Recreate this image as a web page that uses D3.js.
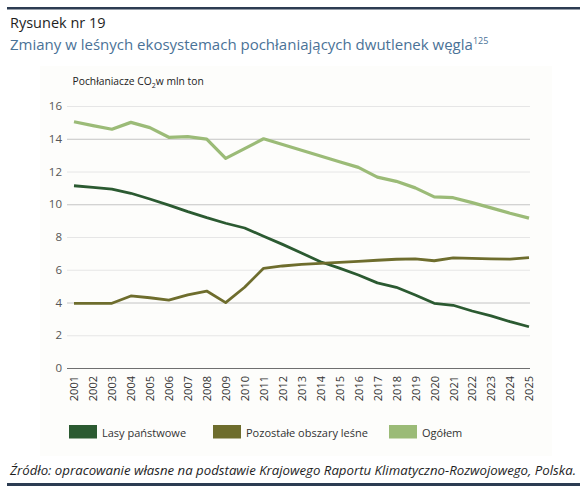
<!DOCTYPE html>
<html>
<head>
<meta charset="utf-8">
<script src="https://cdn.jsdelivr.net/npm/d3@7"></script>
<style>
  body { margin: 0; background: #fff; }
  svg { display: block; font-family: "Open Sans", sans-serif; }
</style>
</head>
<body>
<svg id="chart" width="584" height="492"></svg>
<script>
// Data (mln ton CO2)
const years = d3.range(2001, 2026);
const lasyPanstwowe = [11.13, 11.03, 10.93, 10.67, 10.32, 9.95, 9.55, 9.18, 8.84, 8.55,
  8.05, 7.55, 7.02, 6.49, 6.1, 5.68, 5.2, 4.93, 4.46, 3.95, 3.83, 3.48, 3.18, 2.83, 2.52];
const pozostale = [3.95, 3.95, 3.95, 4.4, 4.29, 4.15, 4.46, 4.7, 3.99, 4.93,
  6.09, 6.23, 6.33, 6.39, 6.45, 6.51, 6.58, 6.64, 6.66, 6.55, 6.72, 6.69, 6.67, 6.65, 6.74];
const ogolem = [15.04, 14.8, 14.58, 15.0, 14.68, 14.09, 14.13, 13.98, 12.8, 13.4,
  14.0, 13.65, 13.3, 12.95, 12.6, 12.25, 11.66, 11.4, 11.0, 10.45, 10.4, 10.1, 9.78, 9.45, 9.15];
const yTicks = [0, 2, 4, 6, 8, 10, 12, 14, 16];
const seriesNames = ["Lasy państwowe", "Pozostałe obszary leśne", "Ogółem"];
const seriesColors = ["#2b5a31", "#6e6d2d", "#9bbb77"];

const svg = d3.select("#chart");

// frame lines
svg.append("rect").attr("x", 7).attr("y", 7).attr("width", 573).attr("height", 2.5).attr("fill", "#2c3c52");
svg.append("rect").attr("x", 7).attr("y", 483).attr("width", 573).attr("height", 3).attr("fill", "#2c3c52");

// header
svg.append("text").attr("x", 10).attr("y", 27.5)
  .attr("font-size", 14.5).attr("fill", "#1e1e1e").text("Rysunek nr 19");
const title = svg.append("text").attr("x", 10).attr("y", 50)
  .attr("font-size", 15).attr("fill", "#4a7297");
title.append("tspan").text("Zmiany w leśnych ekosystemach pochłaniających dwutlenek węgla");
title.append("tspan").attr("font-size", 9).attr("dy", -6).text("125");

// panel background
svg.append("rect").attr("x", 40).attr("y", 66).attr("width", 512).attr("height", 390)
  .attr("fill", "#fdfdfb");

const x = d3.scalePoint().domain(years).range([74, 529]);
const y = d3.scaleLinear().domain([0, 16]).range([368, 106]);

// y label
const yl = svg.append("text").attr("x", 72.5).attr("y", 85)
  .attr("font-size", 10.3).attr("fill", "#222");
yl.append("tspan").text("Pochłaniacze CO");
yl.append("tspan").attr("font-size", 7).attr("dy", 3).text("2");
yl.append("tspan").attr("dy", -3).text("w mln ton");

// grid (some lines print darker than others in the original)
const darkGrid = [4, 10, 14];
const yAxis = svg.append("g")
  .attr("transform", "translate(67,0)")
  .call(d3.axisLeft(y).tickValues(yTicks).tickSize(-463).tickPadding(5).tickFormat(d3.format("d")));
yAxis.select(".domain").remove();
yAxis.selectAll(".tick line")
  .attr("stroke", d => d === 0 ? "#6f6f6f" : darkGrid.includes(d) ? "#c4c4c4" : "#e6e6e6")
  .attr("stroke-width", d => d === 0 ? 1.2 : 1);
yAxis.selectAll(".tick text")
  .attr("font-family", "Open Sans, sans-serif")
  .attr("font-size", 11.5).attr("fill", "#555");

// x labels
const xAxis = svg.append("g")
  .attr("transform", "translate(0,368)")
  .call(d3.axisBottom(x).tickSize(0).tickPadding(0));
xAxis.select(".domain").remove();
xAxis.selectAll(".tick text")
  .attr("font-family", "Open Sans, sans-serif")
  .attr("font-size", 11).attr("fill", "#333")
  .attr("transform", "rotate(-90)")
  .attr("text-anchor", "end")
  .attr("x", -8).attr("y", 0).attr("dy", "0.35em");

// lines
const line = d3.line().x((d, i) => x(years[i])).y(d => y(d));
[lasyPanstwowe, pozostale, ogolem].forEach((s, i) => {
  svg.append("path").datum(s)
    .attr("fill", "none")
    .attr("stroke", seriesColors[i])
    .attr("stroke-width", i === 2 ? 3.2 : 2.8)
    .attr("stroke-linejoin", "round")
    .attr("d", line);
});

// legend
const legendX = [69, 213, 389];
seriesNames.forEach((n, i) => {
  svg.append("rect").attr("x", legendX[i]).attr("y", 425).attr("width", 28).attr("height", 13.5)
    .attr("fill", seriesColors[i]);
  svg.append("text").attr("x", legendX[i] + 33).attr("y", 436.5)
    .attr("font-size", 11).attr("fill", "#333").text(n);
});

// source
svg.append("text").attr("x", 10).attr("y", 475)
  .attr("font-size", 13).attr("font-style", "italic").attr("fill", "#1e1e1e")
  .attr("textLength", 566).attr("lengthAdjust", "spacingAndGlyphs")
  .text("Źródło: opracowanie własne na podstawie Krajowego Raportu Klimatyczno-Rozwojowego, Polska.");
</script>
</body>
</html>
